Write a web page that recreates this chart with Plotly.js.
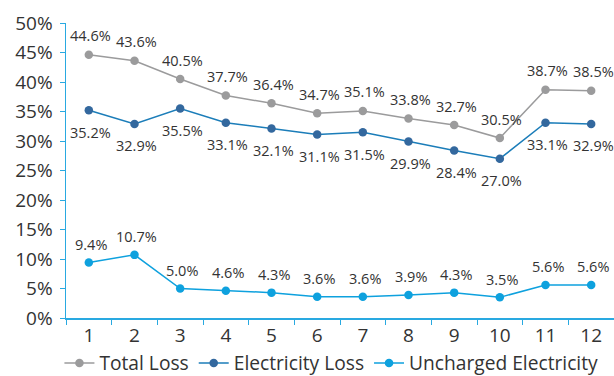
<!DOCTYPE html>
<html>
<head>
<meta charset="utf-8">
<script src="https://cdn.plot.ly/plotly-3.0.1.min.js"></script>
<style>
  html, body { margin: 0; padding: 0; background: #fff; }
  #chart { width: 614px; height: 376px; }
</style>
</head>
<body>
<div id="chart"></div>
<script>
// Months 1..12
const months = ['1', '2', '3', '4', '5', '6', '7', '8', '9', '10', '11', '12'];

// Loss rates in percent
const totalLoss = [44.6, 43.6, 40.5, 37.7, 36.4, 34.7, 35.1, 33.8, 32.7, 30.5, 38.7, 38.5];
const electricityLoss = [35.2, 32.9, 35.5, 33.1, 32.1, 31.1, 31.5, 29.9, 28.4, 27.0, 33.1, 32.9];
const unchargedElectricity = [9.4, 10.7, 5.0, 4.6, 4.3, 3.6, 3.6, 3.9, 4.3, 3.5, 5.6, 5.6];

const yTickVals = [0, 5, 10, 15, 20, 25, 30, 35, 40, 45, 50];
const yTickText = yTickVals.map(v => v + '%');

const FONT = 'Open Sans, Noto Sans, sans-serif';
const AXIS_BLUE = '#29a9e1';
const TEXT_COL = '#333333';

function series(name, values, lineColor, markerColor) {
  return {
    type: 'scatter',
    mode: 'lines+markers',
    name: name,
    x: months,
    y: values,
    line: { color: lineColor, width: 1.5 },
    marker: { color: markerColor, size: 8.5 },
    cliponaxis: false,
    hoverinfo: 'skip'
  };
}

const data = [
  series('Total Loss', totalLoss, '#9b9b9c', '#9b9b9c'),
  series('Electricity Loss', electricityLoss, '#1b7db9', '#33689e'),
  series('Uncharged Electricity', unchargedElectricity, '#0ea1de', '#0ea1de')
];

// Value labels: above the total and uncharged points, below the electricity points.
// On a category axis the annotation x is the category index.
function labels(values, shift) {
  return values.map((v, i) => ({
    x: i,
    y: v,
    xref: 'x',
    yref: 'y',
    text: v.toFixed(1) + '%',
    showarrow: false,
    yshift: shift,
    xshift: 2,
    font: { family: FONT, size: 14.5, color: TEXT_COL }
  }));
}

const annotations = []
  .concat(labels(totalLoss, 19))
  .concat(labels(electricityLoss, -22))
  .concat(labels(unchargedElectricity, 18));

const layout = {
  width: 614,
  height: 376,
  margin: { l: 66, r: 0, t: 23, b: 58, autoexpand: false },
  paper_bgcolor: '#ffffff',
  plot_bgcolor: '#ffffff',
  showlegend: true,
  font: { family: FONT, color: TEXT_COL },
  annotations: annotations,
  xaxis: {
    type: 'category',
    range: [-0.5, 11.5],
    showgrid: false,
    zeroline: false,
    showline: true,
    linecolor: AXIS_BLUE,
    linewidth: 1.5,
    ticks: 'outside',
    tickson: 'boundaries',
    ticklen: 5,
    tickcolor: AXIS_BLUE,
    tickwidth: 1,
    tickfont: { family: FONT, size: 19, color: TEXT_COL },
    fixedrange: true
  },
  yaxis: {
    range: [0, 50],
    tickvals: yTickVals,
    ticktext: yTickText,
    showgrid: false,
    zeroline: false,
    showline: true,
    linecolor: AXIS_BLUE,
    linewidth: 1.5,
    ticks: 'outside',
    ticklen: 5,
    tickcolor: AXIS_BLUE,
    tickwidth: 1,
    ticklabelstandoff: 3,
    tickfont: { family: FONT, size: 19, color: TEXT_COL },
    fixedrange: true
  },
  legend: {
    orientation: 'h',
    x: -0.012,
    xanchor: 'left',
    y: -0.088,
    yanchor: 'top',
    font: { family: FONT, size: 19.2, color: TEXT_COL },
    itemwidth: 30,
    tracegroupgap: 0,
    bgcolor: 'rgba(0,0,0,0)'
  }
};

Plotly.newPlot('chart', data, layout, { displayModeBar: false, staticPlot: true });
</script>
</body>
</html>
